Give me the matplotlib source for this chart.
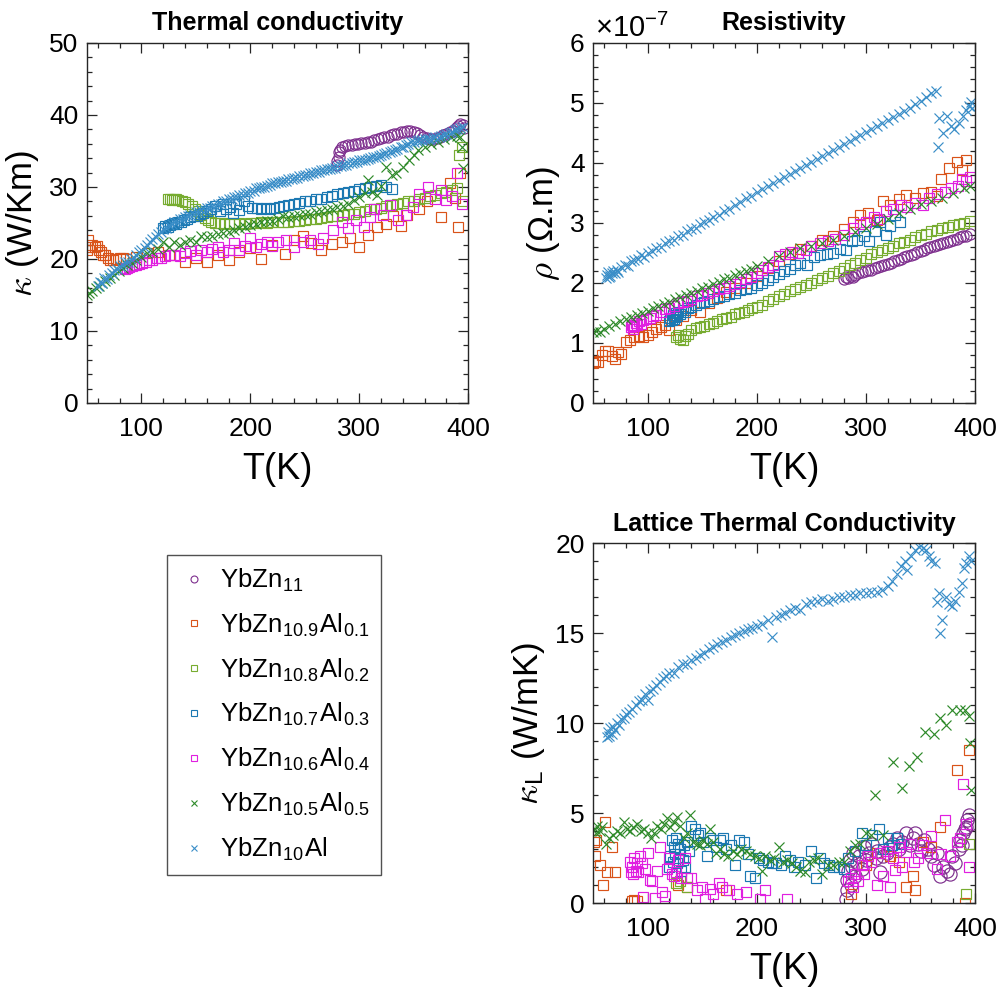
import numpy as np
import matplotlib
matplotlib.use('Agg')
import matplotlib.pyplot as plt
from matplotlib.ticker import MultipleLocator
from matplotlib.lines import Line2D

plt.rcParams['font.family'] = ['Liberation Sans', 'DejaVu Sans']
plt.rcParams['mathtext.fontset'] = 'cm'

# ---------------- data: (T [K], value) ----------------
# total thermal conductivity, W/Km
kap_yb11 = [(280, 33.0), (280, 33.6), (281, 34.2), (281, 34.8), (282, 35.2), (284, 35.5), (287, 35.7),
            (290, 35.8), (293, 35.9), (296, 36.0), (299, 36.0), (302, 36.1), (305, 36.1), (308, 36.2),
            (311, 36.3), (314, 36.5), (317, 36.6), (320, 36.8), (323, 36.9), (326, 37.0), (329, 37.2),
            (332, 37.3), (335, 37.4), (338, 37.6), (341, 37.7), (344, 37.8), (347, 37.8), (350, 37.7),
            (353, 37.5), (356, 37.2), (359, 36.9), (362, 36.8), (365, 36.6), (368, 36.6), (371, 36.8),
            (374, 37.0), (377, 37.2), (380, 37.4), (383, 37.6), (386, 37.8), (389, 38.2), (391, 38.5),
            (393, 38.7), (395, 38.6), (396, 38.2)]
kap_al01 = [(50, 21.3), (51, 22.6), (53, 21.7), (55, 21.9), (57, 21.6), (59, 21.8), (61, 21.3), (63, 21.0),
            (65, 20.6), (67, 20.6), (69, 20.1), (71, 19.9), (74, 19.8), (77, 20.0), (80, 20.2), (83, 20.2),
            (86, 20.0), (95, 20.3), (105, 20.8), (115, 20.9), (125, 20.5), (140, 19.6), (150, 20.2),
            (160, 19.6), (170, 20.5), (180, 19.9), (190, 20.9), (200, 21.5), (210, 20.0), (220, 22.0),
            (232, 20.7), (240, 22.6), (248, 23.2), (256, 22.2), (265, 21.3), (275, 22.1), (284, 22.3),
            (292, 22.9), (300, 21.6), (308, 23.3), (316, 24.4), (325, 24.9), (331, 26.0), (338, 24.6),
            (344, 26.1), (355, 27.0), (362, 28.0), (375, 25.8), (383, 30.6), (388, 28.5), (391, 24.4),
            (393, 32.0)]
kap_al02 = [(124, 28.3), (126, 28.4), (128, 28.2), (130, 28.3), (132, 28.4), (134, 28.2), (137, 28.1),
            (140, 27.9), (143, 27.7), (146, 27.4), (149, 27.0), (152, 26.6), (155, 26.1), (158, 25.7),
            (161, 25.4), (164, 25.2), (168, 25.0), (172, 25.0), (176, 24.9), (180, 25.0), (185, 24.9),
            (190, 25.0), (195, 24.9), (200, 25.0), (205, 25.0), (210, 25.1), (215, 25.0), (220, 25.1),
            (225, 25.2), (230, 25.1), (235, 25.2), (240, 25.3), (245, 25.3), (250, 25.4), (255, 25.5),
            (260, 25.6), (265, 25.7), (270, 25.8), (275, 25.9), (280, 26.0), (285, 26.1), (290, 26.2),
            (295, 26.3), (300, 26.5), (305, 26.7), (310, 26.9), (315, 27.0), (320, 27.1), (325, 27.3),
            (330, 27.5), (335, 27.6), (340, 27.8), (345, 28.0), (350, 28.1), (355, 28.3), (360, 28.5),
            (365, 28.7), (370, 28.9), (375, 29.1), (380, 29.3), (385, 29.6), (390, 29.8), (392, 34.5),
            (394, 35.6), (395, 28.0)]
kap_al03 = [(120, 24.3), (122, 24.6), (124, 24.5), (126, 24.7), (128, 24.9), (130, 25.0), (132, 24.9),
            (134, 25.1), (136, 25.2), (139, 25.4), (142, 25.5), (145, 25.8), (148, 25.9), (151, 26.0),
            (154, 26.3), (157, 26.4), (160, 26.6), (164, 27.0), (168, 27.3), (172, 26.7), (175, 27.7),
            (178, 27.0), (181, 27.2), (184, 26.4), (187, 27.6), (190, 26.8), (194, 28.0), (198, 27.3),
            (202, 27.1), (206, 27.1), (210, 27.0), (214, 27.1), (218, 27.0), (222, 27.1), (226, 27.2),
            (230, 27.3), (235, 27.5), (240, 27.6), (245, 27.8), (250, 28.0), (255, 28.1), (260, 28.3),
            (265, 28.4), (270, 28.6), (275, 28.8), (280, 29.0), (285, 29.2), (290, 29.3), (295, 29.5),
            (300, 29.7), (305, 29.8), (310, 30.0), (315, 30.2), (320, 30.3), (325, 30.0), (330, 29.7)]
kap_al04 = [(85, 18.6), (87, 18.8), (89, 18.9), (91, 19.0), (93, 19.1), (95, 19.2), (98, 19.3), (101, 19.5),
            (104, 19.6), (107, 19.8), (110, 19.9), (114, 20.1), (118, 20.2), (122, 20.4), (126, 20.5),
            (130, 20.6), (135, 20.4), (140, 20.8), (145, 21.1), (150, 20.6), (155, 21.3), (160, 20.9),
            (165, 21.4), (170, 21.6), (175, 20.9), (180, 21.3), (185, 22.2), (190, 21.2), (195, 21.8),
            (200, 22.9), (205, 21.6), (210, 22.1), (215, 22.4), (220, 21.8), (225, 22.3), (233, 22.6),
            (240, 21.7), (248, 22.4), (255, 22.7), (262, 22.1), (267, 22.9), (276, 24.0), (284, 25.2),
            (290, 24.3), (297, 25.4), (304, 24.5), (310, 25.8), (314, 27.0), (322, 26.1), (328, 27.5),
            (336, 25.4), (343, 26.1), (349, 27.2), (355, 29.0), (363, 30.0), (370, 28.4), (375, 29.6),
            (380, 28.2), (385, 28.8), (390, 31.9), (394, 27.7)]
kap_al05 = [(50, 15.0), (52, 15.3), (55, 15.6), (58, 16.0), (61, 16.3), (64, 16.7), (67, 17.0), (71, 17.4),
            (75, 17.8), (79, 18.3), (83, 18.7), (87, 19.1), (91, 19.5), (95, 19.8), (100, 20.3), (105, 20.8),
            (110, 21.0), (115, 21.4), (120, 22.3), (125, 21.6), (130, 22.4), (135, 21.9), (140, 22.3),
            (145, 22.6), (150, 22.3), (155, 23.2), (160, 23.0), (165, 23.2), (170, 23.5), (175, 23.6),
            (180, 23.8), (185, 24.0), (190, 24.3), (195, 24.4), (200, 24.7), (205, 24.8), (210, 25.1),
            (215, 25.3), (220, 25.3), (225, 25.6), (230, 25.9), (235, 25.8), (240, 26.0), (245, 26.1),
            (250, 26.3), (255, 26.3), (260, 26.5), (265, 26.6), (270, 26.8), (275, 26.9), (280, 27.2),
            (285, 27.4), (290, 27.7), (295, 28.2), (300, 28.6), (305, 29.1), (308, 31.0), (312, 29.3),
            (316, 28.9), (320, 30.2), (325, 32.8), (330, 31.6), (334, 32.0), (340, 32.8), (346, 33.8),
            (350, 34.5), (354, 35.1), (360, 35.6), (366, 36.0), (372, 36.3), (378, 36.6), (384, 36.9),
            (390, 37.1), (393, 37.0), (394, 35.6), (395, 32.6)]
kap_al1 = [(60, 16.3), (62, 16.8), (64, 16.6), (66, 17.3), (68, 17.2), (70, 17.8), (73, 18.0), (75, 18.5),
           (78, 18.6), (80, 19.0), (83, 19.1), (85, 19.6), (88, 19.6), (90, 20.0), (93, 20.2), (95, 20.5),
           (98, 20.9), (100, 21.2), (103, 21.5), (105, 22.0), (108, 22.3), (110, 22.8), (113, 23.1),
           (115, 23.5), (118, 23.8), (120, 24.1), (123, 24.3), (125, 24.7), (128, 24.8), (130, 25.1),
           (133, 25.2), (135, 25.5), (138, 25.5), (140, 25.8), (143, 25.9), (145, 26.1), (148, 26.2),
           (150, 26.5), (153, 26.5), (155, 26.8), (158, 26.8), (160, 27.1), (163, 27.1), (165, 27.4),
           (168, 27.4), (170, 27.7), (173, 27.7), (175, 28.0), (178, 28.0), (180, 28.3), (183, 28.3),
           (185, 28.6), (188, 28.6), (190, 28.9), (193, 28.9), (195, 29.2), (198, 29.2), (200, 29.5),
           (203, 29.5), (205, 29.8), (208, 29.8), (210, 30.0), (213, 30.0), (215, 30.2), (218, 30.3),
           (220, 30.5), (223, 30.5), (225, 30.7), (228, 30.7), (230, 30.9), (233, 30.9), (235, 31.1),
           (238, 31.1), (240, 31.3), (243, 31.3), (245, 31.5), (248, 31.5), (250, 31.7), (253, 31.7),
           (255, 31.9), (258, 31.9), (260, 32.1), (263, 32.1), (265, 32.3), (268, 32.3), (270, 32.5),
           (273, 32.5), (275, 32.7), (278, 32.7), (280, 32.9), (283, 32.9), (285, 33.1), (288, 33.1),
           (290, 33.3), (293, 33.3), (295, 33.5), (298, 33.5), (300, 33.7), (303, 33.7), (305, 33.8),
           (308, 33.9), (310, 34.0), (313, 34.1), (315, 34.2), (318, 34.3), (320, 34.4), (323, 34.6),
           (325, 34.7), (328, 34.9), (330, 35.0), (333, 35.2), (335, 35.3), (338, 35.5), (340, 35.6),
           (343, 35.9), (345, 36.0), (348, 36.2), (350, 36.3), (353, 36.4), (355, 36.5), (358, 36.5),
           (360, 36.6), (363, 36.6), (365, 36.7), (368, 36.8), (370, 36.9), (373, 37.0), (375, 37.1),
           (378, 37.2), (380, 37.4), (383, 37.5), (385, 37.7), (388, 37.9), (390, 38.1), (393, 38.2),
           (395, 38.4)]

# resistivity, units of 1e-7 Ohm.m
rho_yb11 = [(280, 2.06), (282, 2.10), (284, 2.08), (286, 2.12), (288, 2.10), (290, 2.14), (293, 2.16),
            (296, 2.18), (299, 2.20), (302, 2.22), (305, 2.22), (308, 2.25), (311, 2.27), (314, 2.28),
            (317, 2.30), (320, 2.32), (323, 2.34), (326, 2.36), (329, 2.39), (332, 2.40), (335, 2.43),
            (338, 2.45), (341, 2.47), (344, 2.49), (347, 2.52), (350, 2.54), (353, 2.55), (356, 2.58),
            (359, 2.60), (362, 2.62), (365, 2.63), (368, 2.65), (371, 2.67), (374, 2.68), (377, 2.70),
            (380, 2.72), (383, 2.74), (386, 2.76), (389, 2.78), (392, 2.79), (395, 2.82)]
rho_al01 = [(50, 0.66), (52, 0.70), (55, 0.68), (58, 0.80), (61, 0.87), (64, 0.86), (67, 0.78), (70, 0.74),
            (73, 0.85), (76, 0.82), (80, 1.02), (84, 1.05), (88, 1.10), (92, 1.12), (96, 1.10), (100, 1.14),
            (104, 1.18), (108, 1.24), (112, 1.26), (116, 1.30), (120, 1.22), (126, 1.38), (132, 1.45),
            (140, 1.55), (148, 1.52), (156, 1.66), (164, 1.75), (172, 1.85), (180, 1.92), (190, 2.00),
            (200, 2.12), (210, 2.25), (220, 2.36), (230, 2.48), (240, 2.56), (250, 2.62), (260, 2.72),
            (270, 2.78), (280, 2.90), (288, 3.02), (295, 3.13), (302, 3.16), (310, 3.05), (316, 3.36),
            (322, 3.30), (330, 3.40), (337, 3.47), (345, 3.42), (352, 3.50), (360, 3.52), (365, 3.45),
            (369, 3.73), (376, 3.91), (383, 4.02), (388, 3.88), (392, 4.05)]
rho_al02 = [(126, 1.10), (128, 1.14), (130, 1.06), (132, 1.05), (134, 1.12), (137, 1.15), (140, 1.22),
            (144, 1.25), (148, 1.26), (152, 1.28), (156, 1.32), (160, 1.34), (164, 1.36), (168, 1.40),
            (172, 1.42), (176, 1.44), (180, 1.48), (184, 1.50), (188, 1.52), (192, 1.55), (196, 1.58),
            (200, 1.60), (205, 1.64), (210, 1.70), (215, 1.73), (220, 1.78), (225, 1.82), (230, 1.86),
            (235, 1.90), (240, 1.94), (245, 1.97), (250, 2.00), (255, 2.05), (260, 2.08), (265, 2.12),
            (270, 2.16), (275, 2.20), (280, 2.25), (285, 2.30), (290, 2.34), (295, 2.38), (300, 2.42),
            (305, 2.48), (310, 2.52), (315, 2.55), (320, 2.58), (325, 2.62), (330, 2.66), (335, 2.68),
            (340, 2.72), (345, 2.76), (350, 2.80), (355, 2.82), (360, 2.86), (365, 2.88), (370, 2.92),
            (375, 2.94), (380, 2.96), (385, 2.98), (390, 3.00), (395, 3.04)]
rho_al03 = [(120, 1.36), (121, 1.42), (122, 1.38), (123, 1.47), (124, 1.40), (125, 1.44), (126, 1.50),
            (127, 1.45), (128, 1.52), (130, 1.48), (132, 1.55), (134, 1.52), (137, 1.58), (140, 1.60),
            (144, 1.63), (148, 1.66), (152, 1.68), (156, 1.70), (160, 1.73), (165, 1.76), (170, 1.78),
            (175, 1.82), (180, 1.84), (185, 1.88), (190, 1.90), (195, 1.92), (200, 1.96), (205, 2.00),
            (210, 2.05), (215, 2.10), (220, 2.15), (225, 2.20), (230, 2.24), (235, 2.30), (240, 2.34),
            (246, 2.30), (252, 2.44), (258, 2.46), (264, 2.49), (270, 2.50), (276, 2.56), (282, 2.55),
            (287, 2.70), (292, 2.72), (298, 2.78), (303, 2.70), (308, 2.86), (313, 3.02), (318, 2.80),
            (322, 2.95), (327, 3.13), (331, 3.02)]
rho_al04 = [(85, 1.26), (86, 1.30), (87, 1.24), (88, 1.28), (89, 1.33), (90, 1.30), (92, 1.36), (94, 1.32),
            (96, 1.38), (99, 1.40), (102, 1.42), (105, 1.45), (108, 1.47), (112, 1.52), (116, 1.56),
            (120, 1.58), (124, 1.62), (128, 1.66), (132, 1.68), (136, 1.70), (140, 1.74), (145, 1.78),
            (150, 1.80), (155, 1.84), (160, 1.86), (165, 1.90), (170, 1.92), (175, 1.95), (180, 1.98),
            (185, 2.02), (190, 2.06), (195, 2.10), (200, 2.16), (205, 2.22), (210, 2.26), (215, 2.30),
            (220, 2.45), (226, 2.48), (232, 2.52), (238, 2.50), (245, 2.55), (250, 2.62), (258, 2.66),
            (265, 2.70), (272, 2.74), (280, 2.80), (288, 2.92), (295, 2.98), (300, 3.02), (307, 3.10),
            (312, 3.06), (318, 3.20), (325, 3.24), (332, 3.30), (338, 3.26), (345, 3.34), (352, 3.30),
            (358, 3.42), (365, 3.48), (372, 3.52), (378, 3.58), (384, 3.62), (388, 3.74), (392, 3.70),
            (395, 3.76)]
rho_al05 = [(50, 1.18), (53, 1.20), (56, 1.19), (60, 1.24), (65, 1.28), (70, 1.32), (75, 1.36), (80, 1.40),
            (85, 1.43), (90, 1.46), (95, 1.50), (100, 1.54), (105, 1.58), (110, 1.61), (115, 1.65),
            (120, 1.69), (125, 1.73), (130, 1.76), (135, 1.80), (140, 1.84), (145, 1.87), (150, 1.91),
            (155, 1.94), (160, 1.98), (165, 2.02), (170, 2.06), (175, 2.09), (180, 2.13), (185, 2.17),
            (190, 2.20), (195, 2.24), (200, 2.28), (210, 2.36), (220, 2.45), (230, 2.52), (240, 2.58),
            (250, 2.62), (260, 2.66), (270, 2.72), (280, 2.78), (290, 2.85), (300, 2.92), (310, 2.99),
            (320, 3.07), (330, 3.16), (340, 3.24), (350, 3.31), (360, 3.37), (370, 3.42), (380, 3.50),
            (390, 3.58), (395, 3.62)]
rho_al1 = [(62, 2.08), (63, 2.14), (64, 2.18), (65, 2.10), (66, 2.12), (67, 2.17), (68, 2.20), (70, 2.16),
           (72, 2.22), (73, 2.18), (76, 2.26), (79, 2.30), (82, 2.28), (85, 2.36), (88, 2.38), (91, 2.40),
           (94, 2.46), (97, 2.44), (100, 2.50), (104, 2.53), (108, 2.58), (112, 2.60), (116, 2.66),
           (120, 2.70), (124, 2.72), (128, 2.78), (132, 2.80), (136, 2.86), (140, 2.90), (144, 2.92),
           (148, 2.98), (152, 3.02), (156, 3.05), (160, 3.10), (165, 3.14), (170, 3.20), (175, 3.24),
           (180, 3.30), (185, 3.35), (190, 3.42), (195, 3.45), (200, 3.52), (205, 3.56), (210, 3.62),
           (215, 3.66), (220, 3.72), (225, 3.76), (230, 3.82), (235, 3.86), (240, 3.92), (245, 3.96),
           (250, 4.02), (255, 4.06), (260, 4.12), (265, 4.16), (270, 4.22), (275, 4.26), (280, 4.32),
           (285, 4.36), (290, 4.42), (295, 4.46), (300, 4.52), (305, 4.56), (310, 4.62), (315, 4.66),
           (320, 4.72), (325, 4.76), (330, 4.82), (335, 4.86), (340, 4.92), (345, 4.98), (350, 5.04),
           (355, 5.10), (360, 5.16), (364, 5.20), (366, 4.27), (367, 4.75), (371, 4.50), (374, 4.78),
           (378, 4.62), (381, 4.56), (385, 4.67), (389, 4.78), (392, 4.88), (394, 4.95), (396, 5.02),
           (397, 4.92)]

# lattice thermal conductivity, W/mK
kl_yb11 = [(282, 0.2), (283, 0.7), (283, 1.3), (284, 1.8), (285, 2.4), (286, 1.0), (287, 2.0), (288, 2.8),
           (290, 1.5), (292, 2.2), (294, 2.6), (296, 1.9), (298, 3.1), (300, 2.4), (303, 2.8), (306, 3.3),
           (309, 2.5), (310, 2.9), (313, 1.7), (316, 2.6), (319, 2.8), (322, 3.1), (325, 3.3), (328, 3.6),
           (330, 3.0), (333, 3.4), (337, 3.9), (340, 3.2), (343, 3.6), (345, 3.9), (348, 3.3), (350, 2.9),
           (353, 3.5), (357, 3.0), (360, 2.6), (362, 2.1), (365, 2.8), (368, 1.5), (371, 2.0), (374, 1.8),
           (377, 1.6), (379, 2.6), (382, 2.2), (385, 3.0), (386, 3.5), (388, 3.2), (389, 3.9), (391, 4.1),
           (392, 4.2), (393, 4.6), (394, 4.9), (395, 4.4)]
kl_al01 = [(51, 3.4), (52, 2.6), (53, 3.5), (56, 2.1), (59, 1.0), (61, 4.5), (63, 1.7), (67, 3.1), (70, 1.7),
           (86, 0.1), (88, 0.15), (90, 0.1), (128, 1.0), (136, 0.9), (172, 0.7), (286, 0.5), (300, 2.1),
           (310, 2.8), (322, 2.6), (330, 2.3), (337, 0.9), (343, 1.5), (345, 0.7), (352, 3.4), (360, 3.1),
           (368, 4.2), (383, 7.4), (391, 0.0), (394, 8.5)]
kl_al02 = [(126, 1.1), (130, 1.2), (136, 0.9), (392, 0.5), (394, 3.3)]
kl_al03 = [(120, 2.0), (121, 2.6), (122, 3.5), (123, 2.3), (124, 3.1), (125, 2.7), (126, 3.6), (127, 2.2),
           (128, 3.3), (129, 2.5), (130, 3.0), (131, 1.8), (132, 2.4), (133, 3.2), (134, 2.0), (136, 3.4),
           (138, 2.9), (140, 4.3), (143, 4.1), (146, 3.8), (148, 3.9), (151, 3.4), (154, 2.6), (157, 3.6),
           (160, 3.5), (163, 3.1), (166, 3.5), (169, 3.6), (172, 3.0), (176, 3.2), (180, 2.1), (184, 3.5),
           (188, 3.4), (192, 2.7), (194, 1.5), (198, 1.4), (202, 2.5), (206, 2.4), (210, 2.3), (214, 2.2),
           (218, 2.2), (222, 2.1), (226, 2.6), (230, 2.4), (234, 2.0), (238, 2.3), (244, 2.1), (250, 2.9),
           (254, 1.4), (258, 2.5), (262, 2.2), (266, 2.1), (270, 2.0), (275, 2.0), (280, 1.9), (284, 2.5),
           (290, 2.9), (296, 3.9), (300, 3.2), (306, 3.8), (312, 4.1), (316, 3.0), (320, 3.6), (324, 3.2),
           (328, 3.6), (332, 3.3)]
kl_al04 = [(84, 2.3), (85, 1.7), (86, 2.0), (87, 1.6), (88, 2.5), (89, 1.8), (90, 2.2), (91, 1.7), (93, 2.6),
           (95, 2.2), (96, 0.35), (98, 1.9), (100, 2.8), (102, 1.3), (104, 1.2), (107, 0.3), (109, 1.8),
           (111, 3.1), (113, 0.6), (116, 0.4), (118, 1.9), (120, 2.5), (122, 1.6), (124, 1.5), (126, 1.7),
           (128, 2.4), (131, 1.4), (134, 2.5), (136, 1.4), (140, 1.4), (145, 0.7), (150, 0.9), (153, 0.2),
           (157, 0.8), (160, 0.5), (165, 1.1), (168, 0.9), (175, 0.7), (182, 0.5), (190, 0.6), (203, 0.2),
           (208, 0.7), (228, 0.2), (284, 1.2), (286, 1.4), (288, 0.9), (290, 1.6), (293, 1.2), (296, 2.1),
           (298, 1.6), (302, 2.6), (305, 2.3), (310, 1.0), (313, 2.8), (316, 1.5), (319, 2.9), (322, 0.9),
           (325, 2.5), (327, 1.85), (330, 3.1), (333, 2.0), (337, 2.85), (340, 3.3), (344, 2.3), (348, 2.5),
           (352, 3.2), (356, 2.8), (360, 3.7), (365, 1.9), (369, 2.7), (372, 4.6), (377, 2.6), (383, 3.4),
           (386, 3.6), (389, 6.6), (392, 4.4), (394, 2.0)]
kl_al05 = [(52, 4.1), (53, 3.9), (54, 4.3), (56, 4.0), (58, 4.2), (62, 3.3), (65, 3.6), (68, 3.8), (72, 4.0),
           (75, 3.9), (78, 4.5), (81, 4.1), (84, 4.0), (87, 4.2), (90, 4.4), (94, 4.0), (97, 4.1), (100, 3.9),
           (103, 3.6), (106, 3.9), (109, 4.3), (112, 4.1), (115, 4.4), (118, 4.7), (121, 4.2), (124, 4.5),
           (127, 4.8), (130, 4.3), (133, 3.6), (136, 3.9), (139, 4.9), (142, 3.4), (145, 3.3), (148, 3.2),
           (151, 3.5), (154, 3.3), (157, 4.1), (160, 3.4), (163, 2.8), (166, 3.0), (170, 2.7), (174, 2.6),
           (178, 2.9), (182, 2.7), (186, 3.0), (190, 2.9), (194, 2.7), (198, 2.6), (202, 2.5), (205, 1.8),
           (208, 2.6), (212, 2.4), (216, 2.5), (220, 3.1), (224, 2.3), (228, 2.4), (232, 2.2), (236, 2.0),
           (240, 1.8), (244, 1.7), (248, 2.3), (252, 2.4), (256, 2.5), (260, 1.6), (265, 2.1), (270, 2.1),
           (275, 2.3), (280, 2.3), (285, 2.9), (290, 3.2), (295, 3.3), (300, 3.9), (305, 3.8), (308, 6.0),
           (316, 3.8), (325, 7.85), (333, 6.4), (339, 7.6), (347, 8.1), (354, 9.5), (362, 9.4), (368, 10.3),
           (373, 9.9), (379, 10.7), (386, 10.7), (391, 10.7), (394, 10.4), (395, 8.9), (396, 6.3)]
kl_al1 = [(63, 9.2), (64, 9.5), (65, 9.3), (66, 9.7), (67, 9.4), (68, 9.8), (70, 9.6), (72, 10.0), (74, 9.9),
          (76, 10.2), (78, 10.3), (80, 10.5), (83, 10.6), (86, 10.8), (89, 11.0), (92, 11.2), (95, 11.3),
          (98, 11.6), (100, 11.3), (102, 11.8), (105, 11.9), (108, 12.1), (111, 12.3), (114, 12.5),
          (117, 12.6), (120, 12.8), (124, 12.8), (128, 13.1), (132, 13.3), (136, 13.3), (140, 13.5),
          (144, 13.6), (148, 13.8), (152, 13.9), (156, 14.1), (160, 14.2), (164, 14.4), (168, 14.5),
          (172, 14.6), (176, 14.8), (180, 14.9), (184, 15.0), (188, 15.1), (192, 15.2), (196, 15.3),
          (200, 15.4), (205, 15.5), (210, 15.7), (214, 14.8), (218, 15.9), (222, 16.0), (226, 16.1),
          (230, 16.3), (235, 16.4), (240, 16.3), (245, 16.6), (250, 16.7), (255, 16.8), (260, 16.9),
          (265, 16.8), (270, 16.9), (275, 17.0), (280, 17.0), (285, 17.1), (290, 17.1), (295, 17.2),
          (300, 17.2), (305, 17.3), (310, 17.3), (315, 17.4), (320, 17.6), (324, 17.9), (328, 18.3),
          (332, 18.7), (336, 19.0), (338, 18.5), (341, 19.3), (345, 19.6), (349, 19.8), (352, 19.7),
          (355, 19.6), (358, 19.3), (360, 19.0), (363, 18.9), (365, 16.7), (367, 17.2), (368, 15.0),
          (370, 15.7), (373, 17.0), (376, 16.6), (379, 16.5), (382, 16.8), (385, 17.3), (388, 17.8),
          (390, 18.6), (392, 18.9), (394, 19.3), (396, 19.0)]

labels = [r'YbZn$_{\mathregular{11}}$',
          r'YbZn$_{\mathregular{10.9}}$Al$_{\mathregular{0.1}}$',
          r'YbZn$_{\mathregular{10.8}}$Al$_{\mathregular{0.2}}$',
          r'YbZn$_{\mathregular{10.7}}$Al$_{\mathregular{0.3}}$',
          r'YbZn$_{\mathregular{10.6}}$Al$_{\mathregular{0.4}}$',
          r'YbZn$_{\mathregular{10.5}}$Al$_{\mathregular{0.5}}$',
          r'YbZn$_{\mathregular{10}}$Al']
markers = ['o', 's', 's', 's', 's', 'x', 'x']
colors = ['#7E2F8E', '#D95319', '#77AC30', '#1B78B2', '#E01FE0', '#2E8A2A', '#3A8EC8']

kappa_sets = [kap_yb11, kap_al01, kap_al02, kap_al03, kap_al04, kap_al05, kap_al1]
rho_sets = [rho_yb11, rho_al01, rho_al02, rho_al03, rho_al04, rho_al05, rho_al1]
kl_sets = [kl_yb11, kl_al01, kl_al02, kl_al03, kl_al04, kl_al05, kl_al1]

AX_COL = '#262626'


def style(ax, ymax, ymaj, ymin):
    ax.set_xlim(50, 400)
    ax.set_ylim(0, ymax)
    ax.xaxis.set_major_locator(MultipleLocator(100))
    ax.xaxis.set_minor_locator(MultipleLocator(20))
    ax.yaxis.set_major_locator(MultipleLocator(ymaj))
    ax.yaxis.set_minor_locator(MultipleLocator(ymin))
    ax.tick_params(which='both', direction='in', top=True, right=True,
                   color=AX_COL, labelcolor='black', width=0.9, labelsize=19)
    ax.tick_params(which='major', length=7)
    ax.tick_params(which='minor', length=3.5)
    ax.tick_params(axis='x', which='major', pad=10)
    ax.tick_params(axis='y', which='major', pad=6)
    for sp in ax.spines.values():
        sp.set_color(AX_COL)
        sp.set_linewidth(1.0)
    ax.set_xlabel('T(K)', fontsize=26, labelpad=8)


def draw(ax, sets, circle_ms):
    for data, m, c in zip(sets, markers, colors):
        t, v = np.array(data).T
        ms = {'o': circle_ms, 's': 7, 'x': 7.5}[m]
        ax.plot(t, v, linestyle='none', marker=m, ms=ms, mfc='none', mec=c, mew=0.85)


fig = plt.figure(figsize=(10.03, 9.93), dpi=100)
ax1 = fig.add_axes([0.0867, 0.5942, 0.380, 0.3625])
ax2 = fig.add_axes([0.5912, 0.5942, 0.381, 0.3625])
ax3 = fig.add_axes([0.5912, 0.0906, 0.381, 0.3625])

draw(ax1, kappa_sets, 8)
style(ax1, 50, 10, 2)
ax1.set_ylabel(r'$\kappa$ (W/Km)', fontsize=25, labelpad=6)
ax1.set_title('Thermal conductivity', fontsize=18, fontweight='bold', pad=9)

draw(ax2, rho_sets, 8)
style(ax2, 6, 1, 0.2)
ax2.set_ylabel(r'$\rho$ (Ω.m)', fontsize=25, labelpad=6)
ax2.set_title('Resistivity', fontsize=18, fontweight='bold', pad=9)
ax2.text(0.005, 1.0, r'$\mathregular{\times10^{-7}}$', transform=ax2.transAxes,
         fontsize=21, ha='left', va='bottom')

draw(ax3, kl_sets, 9.5)
style(ax3, 20, 5, 1)
ax3.set_ylabel(r'$\kappa_{\mathregular{L}}$ (W/mK)', fontsize=25, labelpad=6)
ax3.set_title('Lattice Thermal Conductivity', fontsize=18, fontweight='bold', pad=9)

handles = [Line2D([], [], linestyle='none', marker=m, ms=5, mfc='none', mec=c, mew=0.8)
           for m, c in zip(markers, colors)]
leg = fig.legend(handles, labels, loc='upper left', bbox_to_anchor=(0.1665, 0.4411),
                 fontsize=18.5, frameon=True, fancybox=False, handlelength=1.2,
                 handletextpad=0.4, labelspacing=0.68, borderpad=0.45, borderaxespad=0)
leg.get_frame().set_edgecolor(AX_COL)
leg.get_frame().set_linewidth(1.0)

fig.savefig('out.png', dpi=100)
